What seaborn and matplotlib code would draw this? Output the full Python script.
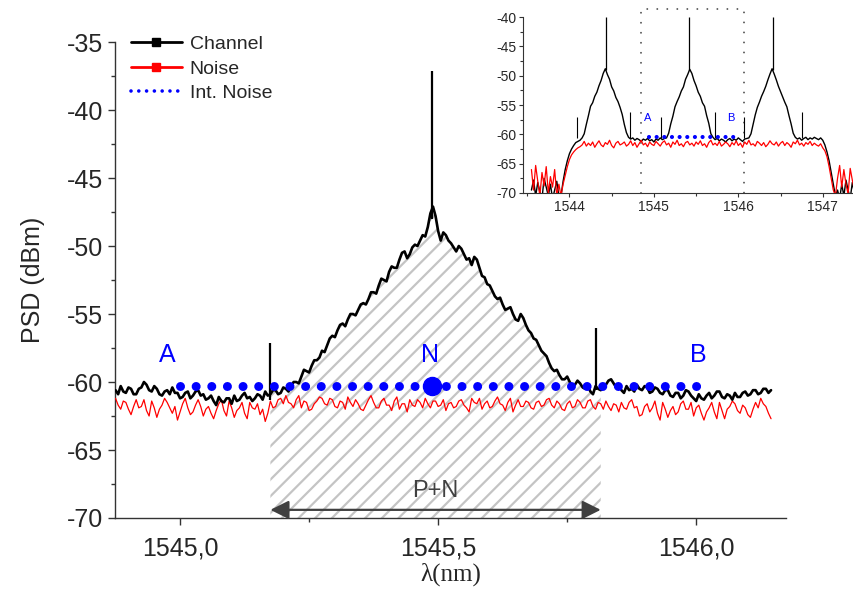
import numpy as np
import matplotlib
matplotlib.use('Agg')
import matplotlib.pyplot as plt
from matplotlib.lines import Line2D
import seaborn as sns

# ---- main spectrum (0.005 nm grid from 1544.875 nm) ----
main_start, main_stop = 1544.875, 1546.145
channel = [
    -60.6, -60.9, -60.3, -60.7, -60.8, -60.4, -60.5, -60.9, -60.9, -60.5,
    -60.4, -60.0, -60.2, -60.6, -60.7, -60.3, -60.5, -60.9, -61.0, -60.7,
    -60.6, -60.9, -60.4, -60.8, -60.8, -61.2, -61.1, -60.8, -60.7, -61.2,
    -61.0, -60.7, -60.6, -61.0, -60.9, -61.3, -61.2, -61.0, -61.4, -61.7,
    -61.1, -61.4, -61.5, -61.2, -61.2, -61.6, -61.0, -61.4, -61.3, -61.0,
    -60.8, -61.2, -61.1, -61.4, -61.2, -60.9, -61.0, -61.3, -60.7, -61.0,
    -60.9, -60.6, -60.6, -60.9, -60.8, -60.4, -60.5, -60.7,
    -60.3, -60.0, -60.0, -60.1, -59.6, -59.1, -59.2, -59.3, -58.8, -58.4,
    -58.4, -58.2, -57.7, -57.8, -57.3, -56.8, -56.6, -56.7, -56.2, -55.8,
    -55.7, -55.9, -55.4, -55.0, -55.0, -55.1, -54.7, -54.3, -54.2, -54.3,
    -53.9, -53.4, -53.4, -53.5, -52.9, -52.4, -52.5, -52.6, -51.9, -51.5,
    -51.6, -51.6, -51.0, -50.5, -50.4, -50.9, -50.6, -50.1, -49.9, -50.0,
    -49.6, -49.2, -49.3, -48.6, -47.6, -47.1, -47.8, -48.9, -49.6, -49.0,
    -49.2, -49.6, -49.8, -50.1, -50.4, -50.0, -50.2, -50.6, -51.0, -50.9,
    -51.4, -50.8, -51.0, -51.6, -52.2, -52.3, -52.8, -52.9, -53.3, -53.7,
    -53.9, -53.8, -54.3, -54.7, -54.6, -54.5, -55.0, -55.4, -55.5, -55.0,
    -55.3, -55.8, -56.2, -56.4, -56.8, -56.9, -57.3, -57.7, -57.9, -58.1,
    -58.6, -59.0, -59.2, -59.1, -59.5, -59.8, -59.8, -59.6, -60.0, -60.3,
    -60.2, -59.9, -60.1, -60.4, -60.5, -60.3, -60.7, -60.9, -60.3, -60.5,
    -60.6, -60.4, -60.2, -59.9, -59.8, -60.1, -60.4, -60.2, -60.6, -60.8,
    -60.3, -60.6, -60.5, -60.7, -60.2, -60.5, -60.6, -60.3, -60.4, -60.8,
    -60.7, -60.4, -60.5, -60.8, -60.9, -60.6, -60.6, -61.0, -61.1, -60.8,
    -60.8, -61.2, -61.0, -60.6, -60.7, -61.0, -61.2, -61.4, -60.9, -61.2,
    -61.3, -61.0, -60.8, -61.2, -61.0, -60.7, -60.7, -61.1, -61.2, -60.9,
    -61.0, -61.3, -60.8, -61.1, -61.1, -60.8, -60.7, -61.0, -60.9, -60.6,
    -60.6, -60.9, -60.8, -60.5, -60.5, -60.8, -60.6,
]
noise = [
    -61.2, -61.7, -62.0, -61.4, -61.5, -62.0, -62.4, -61.8, -61.3, -61.9,
    -61.8, -61.3, -62.1, -62.5, -61.4, -61.9, -62.6, -62.0, -61.7, -61.2,
    -61.5, -61.9, -62.3, -61.8, -62.8, -62.2, -61.6, -61.2, -61.9, -62.4,
    -62.2, -61.7, -61.3, -61.8, -62.5, -62.0, -61.8, -62.3, -62.7, -62.1,
    -61.6, -61.3, -62.1, -62.5, -61.4, -61.9, -62.6, -62.1, -61.9, -61.5,
    -62.3, -62.7, -61.5, -61.9, -62.0, -61.6, -62.4, -62.0, -62.9, -62.3,
    -61.4, -61.9, -61.8, -61.3, -61.2, -61.6, -61.0, -61.5, -61.6, -61.9,
    -61.3, -61.0, -61.9, -61.4, -61.5, -62.1, -62.0, -61.6, -61.4, -61.1,
    -61.2, -61.6, -61.7, -61.2, -61.3, -61.8, -61.9, -61.4, -61.5, -62.0,
    -61.1, -61.5, -61.8, -61.3, -61.6, -62.0, -62.1, -61.7, -61.3, -61.0,
    -61.5, -61.9, -61.9, -61.4, -61.2, -61.7, -61.7, -62.1, -61.4, -61.1,
    -62.0, -61.6, -61.6, -62.2, -61.3, -61.7, -61.8, -61.3, -61.5, -61.9,
    -61.2, -61.6, -61.9, -61.4, -61.4, -61.8, -61.7, -61.3, -62.1, -61.6,
    -61.5, -61.9, -61.8, -61.4, -61.3, -61.7, -61.9, -62.2, -61.2, -61.5,
    -61.6, -61.2, -62.0, -61.6, -61.4, -61.9, -61.8, -61.4, -61.1, -61.6,
    -61.7, -62.1, -61.5, -61.2, -62.2, -61.7, -61.3, -61.8, -61.8, -61.4,
    -61.5, -61.9, -62.0, -61.5, -61.4, -61.8, -61.7, -61.3, -61.2, -61.7,
    -61.9, -61.4, -61.6, -62.0, -62.1, -61.6, -61.4, -61.9, -61.8, -61.3,
    -61.5, -61.9, -61.9, -61.4, -61.3, -61.8, -62.0, -61.5, -61.6, -62.0,
    -61.4, -61.8, -62.1, -61.6, -61.7, -62.2, -61.5, -61.9, -62.0, -61.5,
    -61.3, -61.9, -61.8, -62.5, -62.4, -61.8, -61.6, -62.2, -61.9, -61.4,
    -62.3, -62.8, -61.5, -62.0, -62.6, -62.1, -61.8, -62.4, -62.2, -61.6,
    -61.4, -62.0, -62.0, -61.5, -62.5, -61.9, -61.7, -62.3, -62.8, -62.2,
    -61.9, -61.5, -62.2, -62.7, -61.5, -62.1, -62.7, -62.0, -61.8, -61.4,
    -61.6, -62.1, -62.3, -61.7, -61.9, -62.4, -62.6, -62.0, -61.5, -61.9,
    -61.2, -61.6, -61.8, -62.3, -62.7,
]
spike_pos = [1545.175, 1545.488, 1545.805]
spike_base = [-61.3, -48.0, -60.6]
spike_top = [-57.1, -37.1, -56.0]

int_noise_span = [1545.0, 1546.01]
int_noise_level = -60.3
n_center = 1545.488
band = [1545.175, 1545.815]   # P+N integration window

labels_abn = ['A', 'N', 'B']
labels_x = [1544.975, 1545.485, 1546.005]
labels_y = -58.0

xticks = [1545.0, 1545.5, 1546.0]
xtick_labels = ['1545,0', '1545,5', '1546,0']
yticks = [-70, -65, -60, -55, -50, -45, -40, -35]

# ---- inset: full comb (0.025 nm grid from 1543.55 nm) ----
ins_start, ins_stop = 1543.55, 1547.45
ins_channel = [
    -69.5, -67.8, -70.5, -68.2, -69.8, -71.0, -67.5, -69.0, -70.5, -68.5,
    -71.0, -69.5, -68.0, -70.5, -70.5, -68.0, -66.0, -64.5, -63.3, -62.5,
    -61.9, -61.4, -61.2, -61.0,
    -60.6, -59.9, -58.3, -56.8, -55.2, -54.6, -53.5, -52.8, -51.7, -50.8,
    -49.6, -48.8, -49.8, -50.6, -51.9, -52.6, -53.7, -54.4, -55.4, -56.6,
    -58.3, -59.7, -60.5,
    -60.8, -60.6, -61.0, -60.7, -60.9, -61.2, -60.8, -61.0, -60.7, -61.1,
    -60.9, -61.3, -60.8, -61.0, -60.6, -60.9, -60.7,
    -60.6, -59.8, -58.2, -56.9, -55.3, -54.4, -53.6, -52.6, -51.9, -50.6,
    -49.8, -48.9, -49.6, -50.8, -51.7, -52.8, -53.5, -54.6, -55.2, -56.8,
    -58.1, -59.9, -60.5,
    -60.9, -60.7, -61.1, -60.8, -61.0, -61.3, -60.9, -60.7, -61.1, -60.8,
    -61.0, -60.6, -60.9, -61.2, -60.8, -60.7,
    -60.6, -59.9, -58.3, -56.7, -55.4, -54.5, -53.5, -52.7, -51.8, -50.7,
    -49.7, -48.8, -49.7, -50.7, -51.8, -52.7, -53.6, -54.5, -55.3, -56.8,
    -58.2, -59.8, -60.5,
    -60.8, -60.6, -61.0, -60.7, -60.5, -60.9, -60.6, -60.8, -60.5, -60.7,
    -60.9, -60.6, -61.0,
    -61.8, -63.0, -64.5, -66.5, -68.5, -70.5,
    -69.5, -71.0, -68.5, -70.5, -67.8, -69.5, -71.0, -68.2, -70.0, -67.5,
    -69.8, -68.5,
]
ins_noise = [
    -66.0, -69.5, -65.3, -68.0, -70.5, -66.5, -68.8, -65.5, -70.0, -67.2,
    -69.0, -66.0, -70.5, -68.5, -70.5, -68.5, -67.0, -65.5, -64.3, -63.5,
    -63.0, -62.6, -62.3, -62.1,
    -61.8, -61.2, -62.0, -61.5, -61.9, -61.3, -62.2, -61.6, -61.1, -61.8,
    -62.1, -61.4, -61.7, -61.0, -61.9, -62.3, -61.5, -61.2, -61.8, -61.6,
    -61.3, -62.0, -61.7, -61.1, -61.9, -61.4, -62.2, -61.6, -61.0, -61.8,
    -61.5, -62.1, -61.3, -61.7, -61.9, -61.2, -61.6, -62.0, -61.4, -61.1,
    -61.8, -61.5, -62.2, -61.3, -61.7, -61.0, -61.9, -61.6, -62.1, -61.4,
    -61.2, -61.8, -61.5, -62.0, -61.3, -61.7, -61.1, -61.9, -61.6, -62.2,
    -61.4, -61.0, -61.8, -61.5, -61.9, -61.2, -62.0, -61.7, -61.3, -61.6,
    -62.1, -61.4, -61.8, -61.1, -61.9, -61.5, -62.2, -61.3, -61.7, -61.0,
    -61.8, -61.6, -62.0, -61.2, -61.5, -61.9, -61.4, -62.1, -61.7, -61.1,
    -61.6, -61.8, -61.3, -62.0, -61.5, -61.2, -61.9, -61.4, -61.7, -62.2,
    -61.3, -61.6, -61.0, -61.8, -61.5, -62.0, -61.4, -61.7, -61.2, -61.9,
    -61.5, -61.8, -62.0, -61.6, -62.3,
    -62.8, -63.8, -65.5, -67.5, -69.5, -70.5,
    -67.5, -65.3, -69.0, -66.0, -68.5, -70.2, -65.8, -67.8, -69.5, -66.2,
    -68.0, -65.5,
]
ins_spike_pos = [1544.43, 1545.42, 1546.41]
ins_spike_small = [1544.09, 1544.72, 1545.08, 1545.72, 1546.07, 1546.75]
ins_spike_small_top = [-57.0, -56.2, -57.0, -56.2, -57.0, -56.2]
ins_box = [1544.85, 1546.07]
ins_int_span = [1544.94, 1545.95]
ins_int_level = -60.4
ins_labels_x = [1544.93, 1545.91]

sns.set_theme(style='ticks')
plt.rcParams['font.family'] = ['Liberation Sans', 'DejaVu Sans']
plt.rcParams['axes.unicode_minus'] = False
plt.rcParams['hatch.linewidth'] = 1.6
plt.rcParams['hatch.color'] = '#c4c4c4'
plt.rcParams['lines.scale_dashes'] = False

wl = np.linspace(main_start, main_stop, len(channel))
wl_ins = np.linspace(ins_start, ins_stop, len(ins_channel))
ch = np.array(channel)

fig = plt.figure(figsize=(8.54, 5.92), dpi=100)
ax = fig.add_axes([0.1347, 0.125, 0.7857, 0.804])

# hatched P+N area under channel curve
inband = (wl >= band[0] - 1e-9) & (wl <= band[1] + 1e-9)
ax.fill_between(wl[inband], -70, ch[inband], facecolor='white', edgecolor='#c4c4c4',
                hatch='//', linewidth=0, zorder=1)

sns.lineplot(x=wl, y=noise, ax=ax, color='red', lw=0.9, estimator=None, zorder=3)
sns.lineplot(x=wl, y=channel, ax=ax, color='black', lw=1.9, estimator=None, zorder=4)
ax.vlines(spike_pos, spike_base, spike_top, color='black', lw=1.6, zorder=4)

ax.plot(int_noise_span, [int_noise_level] * 2, color='blue', lw=6.5,
        linestyle=(0, (0.01, 11.25)), dash_capstyle='round', zorder=5)
ax.plot([n_center], [int_noise_level], 'o', color='blue', ms=13, zorder=6)

for lab, lx in zip(labels_abn, labels_x):
    ax.text(lx, labels_y, lab, color='blue', fontsize=18, ha='center', va='center')

ax.annotate('', xy=(band[0], -69.4), xytext=(band[1], -69.4),
            arrowprops=dict(arrowstyle='<|-|>', color='#404040', lw=1.6,
                            mutation_scale=28, shrinkA=0, shrinkB=0))
ax.text(np.mean(band), -68.0, 'P+N', color='#404040', fontsize=17,
        ha='center', va='center')

ax.set_xlim(1544.874, 1546.174)
ax.set_ylim(-70, -35)
ax.set_xticks(xticks)
ax.set_xticklabels(xtick_labels)
ax.set_xticks([1545.25, 1545.75], minor=True)
ax.set_yticks(yticks)
ax.set_yticks(np.array(yticks[:-1]) + 2.5, minor=True)
ax.tick_params(which='major', length=5, width=1, labelsize=18, color='#333333')
ax.tick_params(which='minor', length=3, width=1, color='#333333')
ax.tick_params(axis='x', pad=8)
for s in ['top', 'right']:
    ax.spines[s].set_visible(False)
for s in ['left', 'bottom']:
    ax.spines[s].set_color('#333333')
    ax.spines[s].set_linewidth(1)
ax.set_ylabel('PSD (dBm)', fontsize=18, labelpad=16)
ax.set_xlabel('λ(nm)', fontsize=18, family=['Liberation Serif', 'DejaVu Serif'], labelpad=2)

handles = [
    Line2D([], [], color='black', lw=2, marker='s', ms=6),
    Line2D([], [], color='red', lw=2, marker='s', ms=6),
    Line2D([], [], color='blue', lw=2.6, linestyle=(0, (0.01, 5.6)), dash_capstyle='round'),
]
ax.legend(handles, ['Channel', 'Noise', 'Int. Noise'], loc='upper left',
          bbox_to_anchor=(0.0125, 1.03), frameon=False, fontsize=14,
          handlelength=2.6, handletextpad=0.4, labelspacing=0.35, borderaxespad=0)

# ---- inset ----
ins = fig.add_axes([0.6124, 0.674, 0.3876, 0.297])
sns.lineplot(x=wl_ins, y=ins_channel, ax=ins, color='black', lw=1.0, estimator=None, zorder=3)
sns.lineplot(x=wl_ins, y=ins_noise, ax=ins, color='red', lw=0.9, estimator=None, zorder=4)
ins.vlines(ins_spike_pos, -49, -40, color='black', lw=0.9, zorder=3)
ins.vlines(ins_spike_small, -60.7, ins_spike_small_top, color='black', lw=0.8, zorder=3)
ins.plot([ins_box[0], ins_box[0], ins_box[1], ins_box[1]], [-70, -38.6, -38.6, -70],
         color='#555555', lw=1.4, linestyle=(0, (0.01, 7.2)), dash_capstyle='round',
         clip_on=False, zorder=2)
ins.plot(ins_int_span, [ins_int_level] * 2, color='blue', lw=3.0,
         linestyle=(0, (0.01, 5.5)), dash_capstyle='round', zorder=5)
for lab, lx in zip(['A', 'B'], ins_labels_x):
    ins.text(lx, -57.2, lab, color='blue', fontsize=8, ha='center', va='center')
ins.set_xlim(1543.45, 1547.37)
ins.set_ylim(-70, -40)
ins.set_xticks([1544, 1545, 1546, 1547])
ins.set_xticks([1543.5, 1544.5, 1545.5, 1546.5], minor=True)
ins.set_yticks([-70, -65, -60, -55, -50, -45, -40])
ins.set_yticks([-67.5, -62.5, -57.5, -52.5, -47.5, -42.5], minor=True)
ins.tick_params(which='major', length=3, width=0.8, labelsize=10, color='#333333', pad=2)
ins.tick_params(which='minor', length=2, width=0.8, color='#333333')
for s in ['top', 'right']:
    ins.spines[s].set_visible(False)
for s in ['left', 'bottom']:
    ins.spines[s].set_color('#333333')
    ins.spines[s].set_linewidth(0.8)
ins.patch.set_alpha(0)

fig.savefig('out.png', dpi=100)
